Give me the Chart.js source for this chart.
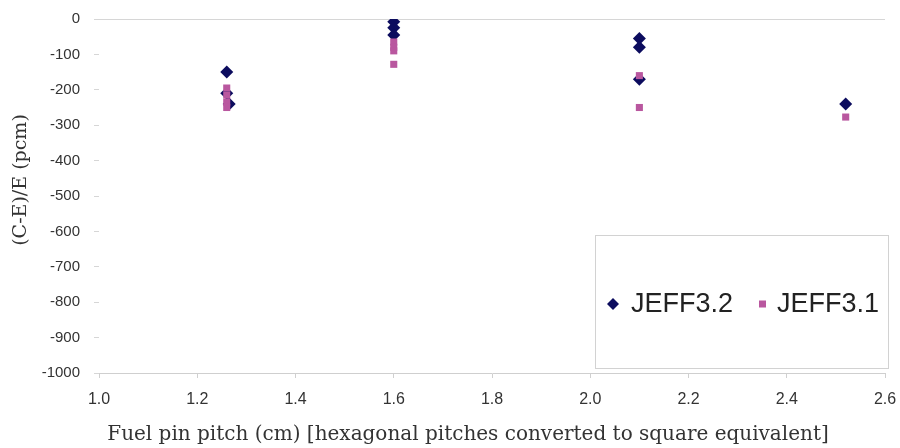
<!DOCTYPE html>
<html>
<head>
<meta charset="utf-8">
<script src="https://cdn.jsdelivr.net/npm/chart.js@4/dist/chart.umd.min.js"></script>
<style>
  html, body { margin: 0; padding: 0; background: #ffffff; }
  #wrap { position: relative; width: 900px; height: 448px; }
</style>
</head>
<body>
<div id="wrap"><canvas id="c" width="900" height="448"></canvas></div>
<script>
// Pitch (cm) and (C-E)/E deviations (pcm) for the two nuclear data libraries
const jeff32Pitch = [1.26, 1.26, 1.265, 1.6, 1.6, 1.6, 2.1, 2.1, 2.1, 2.52];
const jeff32Dev   = [-150, -210, -240, -8, -25, -45, -55, -80, -170, -240];
const jeff31Pitch = [1.26, 1.26, 1.26, 1.26, 1.6, 1.6, 1.6, 1.6, 2.1, 2.1, 2.52];
const jeff31Dev   = [-195, -215, -235, -250, -65, -80, -90, -128, -160, -250, -277];

const seriesNames = ['JEFF3.2', 'JEFF3.1'];
const xTitle = 'Fuel pin pitch (cm) [hexagonal pitches converted to square equivalent]';
const yTitle = '(C-E)/E (pcm)';

const navy = '#0c0c5e';
const pink = '#b9579f';
const serif = "'DejaVu Serif', serif";
const sans = "'Liberation Sans', Arial, sans-serif";

function toPoints(xs, ys) {
  return xs.map((x, i) => ({ x: x, y: ys[i] }));
}

// Boxed legend in the lower right of the plot plus both axis titles
const decorations = {
  id: 'decorations',
  afterDraw(chart) {
    const ctx = chart.ctx;
    ctx.save();
    // legend frame
    ctx.strokeStyle = '#d2d2d2';
    ctx.lineWidth = 1;
    ctx.fillStyle = '#ffffff';
    ctx.fillRect(595.5, 235.5, 293, 133);
    ctx.strokeRect(595.5, 235.5, 293, 133);

    const cy = 304;
    // diamond marker
    ctx.fillStyle = navy;
    ctx.beginPath();
    ctx.moveTo(613, cy - 6);
    ctx.lineTo(619, cy);
    ctx.lineTo(613, cy + 6);
    ctx.lineTo(607, cy);
    ctx.closePath();
    ctx.fill();
    // square marker
    ctx.fillStyle = pink;
    ctx.fillRect(759, cy - 3.5, 7, 7);

    ctx.fillStyle = '#222222';
    ctx.font = '27px ' + sans;
    ctx.textBaseline = 'middle';
    ctx.textAlign = 'left';
    ctx.fillText(seriesNames[0], 631, cy + 1);
    ctx.fillText(seriesNames[1], 777, cy + 1);

    // x axis title
    ctx.textAlign = 'center';
    ctx.fillStyle = '#333333';
    ctx.font = '20px ' + serif;
    ctx.fillText(xTitle, 468, 435);

    // y axis title
    ctx.translate(21, 180);
    ctx.rotate(-Math.PI / 2);
    ctx.font = '19px ' + serif;
    ctx.fillText(yTitle, 0, 0);
    ctx.restore();
  }
};

new Chart(document.getElementById('c'), {
  type: 'scatter',
  data: {
    datasets: [
      {
        label: seriesNames[0],
        data: toPoints(jeff32Pitch, jeff32Dev),
        pointStyle: 'rectRot',
        pointRadius: 6.5,
        backgroundColor: navy,
        borderColor: navy,
        borderWidth: 0,
        order: 1
      },
      {
        label: seriesNames[1],
        data: toPoints(jeff31Pitch, jeff31Dev),
        pointStyle: 'rect',
        pointRadius: 5,
        backgroundColor: pink,
        borderColor: pink,
        borderWidth: 0,
        order: 0
      }
    ]
  },
  options: {
    responsive: false,
    animation: false,
    layout: { padding: { top: 19, right: 15, left: 0, bottom: 0 } },
    plugins: {
      legend: { display: false },
      tooltip: { enabled: false }
    },
    scales: {
      x: {
        type: 'linear',
        min: 1.0,
        max: 2.6,
        afterFit(scale) {
          scale.height = 75;
          scale.paddingLeft = 0;
          scale.paddingRight = 0;
        },
        ticks: {
          stepSize: 0.2,
          padding: 12,
          color: '#333333',
          font: { family: sans, size: 16 },
          callback: (v) => Number(v).toFixed(1)
        },
        grid: {
          drawOnChartArea: false,
          tickLength: 5,
          tickColor: '#d0d0d0'
        },
        border: { display: true, color: '#cfcfcf', width: 1 }
      },
      y: {
        type: 'linear',
        min: -1000,
        max: 0,
        afterFit(scale) {
          scale.width = 99;
          scale.paddingTop = 0;
          scale.paddingBottom = 0;
        },
        ticks: {
          stepSize: 100,
          padding: 14,
          color: '#333333',
          font: { family: sans, size: 15 },
          callback: (v) => String(v)
        },
        grid: {
          color: (c) => (c.tick && c.tick.value === 0 ? '#d6d6d6' : 'rgba(0,0,0,0)'),
          tickLength: 5,
          tickColor: '#d6d6d6'
        },
        border: { display: false }
      }
    }
  },
  plugins: [decorations]
});
</script>
</body>
</html>
